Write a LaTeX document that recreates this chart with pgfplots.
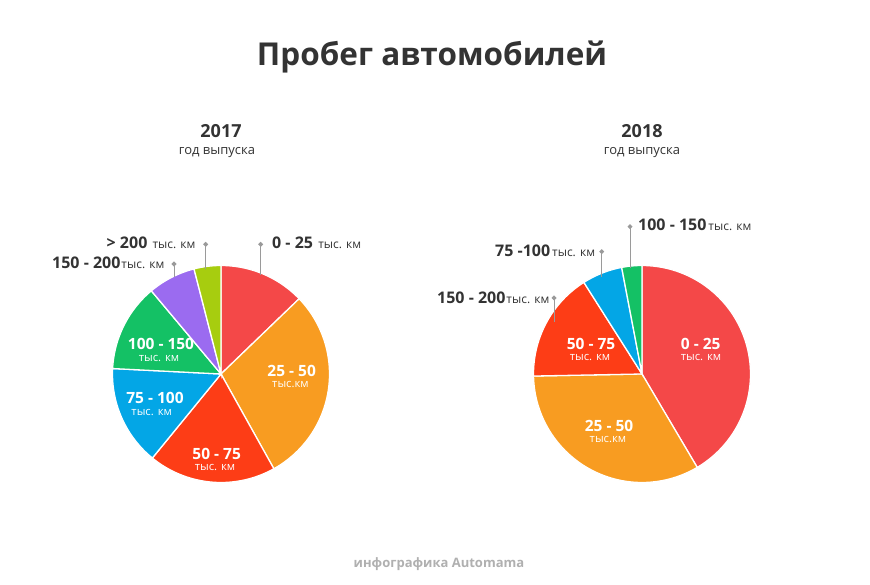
\documentclass[border=0pt]{standalone}
\usepackage{pgfplots}
\pgfplotsset{compat=1.18}
\usepackage{fontspec}
\setmainfont{Open Sans}
\definecolor{cRed}{HTML}{F44848}
\definecolor{cOrange}{HTML}{F89C21}
\definecolor{cRO}{HTML}{FD3D16}
\definecolor{cBlue}{HTML}{03A6E6}
\definecolor{cGreen}{HTML}{14C165}
\definecolor{cPurple}{HTML}{9B6BF0}
\definecolor{cLime}{HTML}{A7CD0F}
\definecolor{dark}{HTML}{333333}
\definecolor{leader}{HTML}{9A9A9A}
\definecolor{foot}{HTML}{B0B0B0}
% slice: centre x, centre y, start %, end %, colour
\newcommand{\slice}[5]{%
  \addplot[fill=#5, draw=white, line width=1.3pt, domain={#3*3.6}:{#4*3.6}, samples=80]
    ({#1+108.5*sin(x)}, {#2+108.5*cos(x)}) -- (axis cs:#1,#2) -- cycle;
}
\newcommand{\lead}[4]{%
  \addplot[color=leader, line width=1pt, mark=*, mark size=1.8pt, mark indices={1}]
    coordinates {(#1,#2) (#3,#4)};
}
\newcommand{\Lb}[1]{{\fontsize{16}{18}\selectfont\bfseries #1}}
\newcommand{\Sm}[1]{{\fontsize{12}{14}\selectfont #1}}
\newcommand{\In}[1]{{\fontsize{15.5}{16}\selectfont\bfseries #1}}
\newcommand{\Ins}[1]{{\fontsize{11.3}{12}\selectfont #1}}
\begin{document}
\begin{tikzpicture}
\fill[white] (0,0) rectangle (870pt,584pt);
\begin{axis}[at={(0,0)}, anchor=south west, scale only axis,
  width=870pt, height=584pt, xmin=0, xmax=870, ymin=0, ymax=584,
  hide axis, clip=false]
% 2017
\slice{221}{210}{0}{12.8}{cRed}
\slice{221}{210}{12.8}{41.9}{cOrange}
\slice{221}{210}{41.9}{60.9}{cRO}
\slice{221}{210}{60.9}{75.8}{cBlue}
\slice{221}{210}{75.8}{88.9}{cGreen}
\slice{221}{210}{88.9}{96.0}{cPurple}
\slice{221}{210}{96.0}{100}{cLime}
% 2018
\slice{642}{210}{0}{41.5}{cRed}
\slice{642}{210}{41.5}{74.7}{cOrange}
\slice{642}{210}{74.7}{91.0}{cRO}
\slice{642}{210}{91.0}{97.0}{cBlue}
\slice{642}{210}{97.0}{100}{cGreen}
% leader lines
\lead{260.7}{339.7}{260.7}{309}
\lead{205.7}{339.7}{205.7}{315}
\lead{174}{320}{174}{307}
\lead{630}{357.3}{630}{316}
\lead{601.7}{332.3}{601.7}{307}
\lead{554}{286}{554}{262}
% titles
\node[anchor=base, text=dark] at (axis cs:432,518) {\fontsize{31.5}{34}\selectfont\bfseries Пробег автомобилей};
\node[anchor=base, text=dark] at (axis cs:221,446.5) {\fontsize{18}{20}\selectfont\bfseries 2017};
\node[anchor=base, text=dark] at (axis cs:217,429) {\fontsize{13}{15}\selectfont год выпуска};
\node[anchor=base, text=dark] at (axis cs:642,446.5) {\fontsize{18}{20}\selectfont\bfseries 2018};
\node[anchor=base, text=dark] at (axis cs:642,429) {\fontsize{13}{15}\selectfont год выпуска};
\node[anchor=base, text=foot] at (axis cs:439,17) {\fontsize{13}{15}\selectfont\bfseries инфографика Automama};
% outside labels 2017
\node[anchor=base west, text=dark, inner sep=0pt] at (axis cs:272,335) {\Lb{0 - 25}\ \ \Sm{тыс. км}};
\node[anchor=base west, text=dark, inner sep=0pt] at (axis cs:106.5,335) {\Lb{> 200}\ \ \Sm{тыс. км}};
\node[anchor=base west, text=dark, inner sep=0pt] at (axis cs:52,315) {\Lb{150 - 200}\kern1pt\Sm{тыс. км}};
% outside labels 2018
\node[anchor=base west, text=dark, inner sep=0pt] at (axis cs:638,353.3) {\Lb{100 - 150}\kern2pt\Sm{тыс. км}};
\node[anchor=base west, text=dark, inner sep=0pt] at (axis cs:495,327.3) {\Lb{75 -100}\kern2pt\Sm{тыс. км}};
\node[anchor=base west, text=dark, inner sep=0pt] at (axis cs:437,280.7) {\Lb{150 - 200}\kern1pt\Sm{тыс. км}};
% inside labels 2017
\node[anchor=base, text=white, inner sep=0pt] at (axis cs:291.7,207.8) {\In{25 - 50}};
\node[anchor=base, text=white, inner sep=0pt] at (axis cs:290.5,196) {\Ins{тыс.км}};
\node[anchor=base, text=white, inner sep=0pt] at (axis cs:161,234.5) {\In{100 - 150}};
\node[anchor=base, text=white, inner sep=0pt] at (axis cs:159,222) {\Ins{тыс. км}};
\node[anchor=base, text=white, inner sep=0pt] at (axis cs:155,180.5) {\In{75 - 100}};
\node[anchor=base, text=white, inner sep=0pt] at (axis cs:151.7,168) {\Ins{тыс. км}};
\node[anchor=base, text=white, inner sep=0pt] at (axis cs:216.7,124.3) {\In{50 - 75}};
\node[anchor=base, text=white, inner sep=0pt] at (axis cs:215,113.5) {\Ins{тыс. км}};
% inside labels 2018
\node[anchor=base, text=white, inner sep=0pt] at (axis cs:700.7,234) {\In{0 - 25}};
\node[anchor=base, text=white, inner sep=0pt] at (axis cs:701,223) {\Ins{тыс. км}};
\node[anchor=base, text=white, inner sep=0pt] at (axis cs:591,234) {\In{50 - 75}};
\node[anchor=base, text=white, inner sep=0pt] at (axis cs:590,223) {\Ins{тыс. км}};
\node[anchor=base, text=white, inner sep=0pt] at (axis cs:609,152.2) {\In{25 - 50}};
\node[anchor=base, text=white, inner sep=0pt] at (axis cs:608,141.4) {\Ins{тыс.км}};
\end{axis}
\end{tikzpicture}
\end{document}
